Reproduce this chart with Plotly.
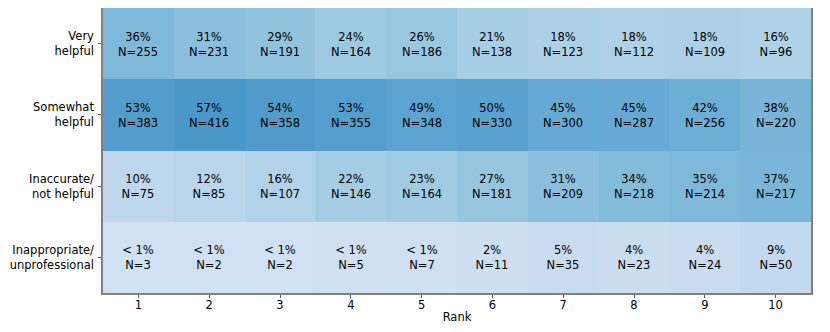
import numpy as np
import plotly.graph_objects as go

ranks = list(range(1, 11))
categories = ["Very<br>helpful", "Somewhat<br>helpful", "Inaccurate/<br>not helpful",
              "Inappropriate/<br>unprofessional"]

# counts per rating category, per rank
n_very = [255, 231, 191, 164, 186, 138, 123, 112, 109, 96]
n_somewhat = [383, 416, 358, 355, 348, 330, 300, 287, 256, 220]
n_inaccurate = [75, 85, 107, 146, 164, 181, 209, 218, 214, 217]
n_inappropriate = [3, 2, 2, 5, 7, 11, 35, 23, 24, 50]

counts = np.array([n_very, n_somewhat, n_inaccurate, n_inappropriate])
share = counts / counts.sum(axis=0)

def fmt(p, n):
    pct = "< 1%" if p < 0.01 else f"{round(p * 100):.0f}%"
    return f"{pct}<br>N={n}"

text = [[fmt(share[i, j], counts[i, j]) for j in range(len(ranks))] for i in range(len(categories))]

# matplotlib "Blues"
blues = [[0.0, "#f7fbff"], [0.125, "#deebf7"], [0.25, "#c6dbef"], [0.375, "#9ecae1"],
         [0.5, "#6baed6"], [0.625, "#4292c6"], [0.75, "#2171b5"], [0.875, "#08519c"],
         [1.0, "#08306b"]]

FONT = "DejaVu Sans"
FS = 11.5

fig = go.Figure(go.Heatmap(
    z=share, x=ranks, y=categories,
    text=text, texttemplate="%{text}",
    textfont=dict(family=FONT, size=FS, color="black"),
    colorscale=blues, zmin=-0.29, zmax=1.14,
    showscale=False, hoverinfo="skip", xgap=0, ygap=0,
))

axis_common = dict(showline=True, linecolor="#808080", linewidth=1.5, mirror=True,
                   ticks="outside", ticklen=3, tickcolor="#555", showgrid=False, zeroline=False,
                   automargin=False,
                   tickfont=dict(family=FONT, size=FS, color="black"))

fig.update_xaxes(tickmode="array", tickvals=ranks, ticktext=[str(r) for r in ranks],
                 ticklabelstandoff=-3,
                 title=dict(text="Rank", font=dict(family=FONT, size=FS, color="black"),
                            standoff=2),
                 **axis_common)
fig.update_yaxes(autorange="reversed", ticklabelstandoff=2, **axis_common)

# page body adds an 8px offset, so size/margins are trimmed to land on the same pixels
fig.update_layout(
    width=822, height=324,
    margin=dict(l=95, r=19, t=0, b=39),
    paper_bgcolor="white", plot_bgcolor="white",
    font=dict(family=FONT, size=FS, color="black"),
)

fig.write_html("out.html")
